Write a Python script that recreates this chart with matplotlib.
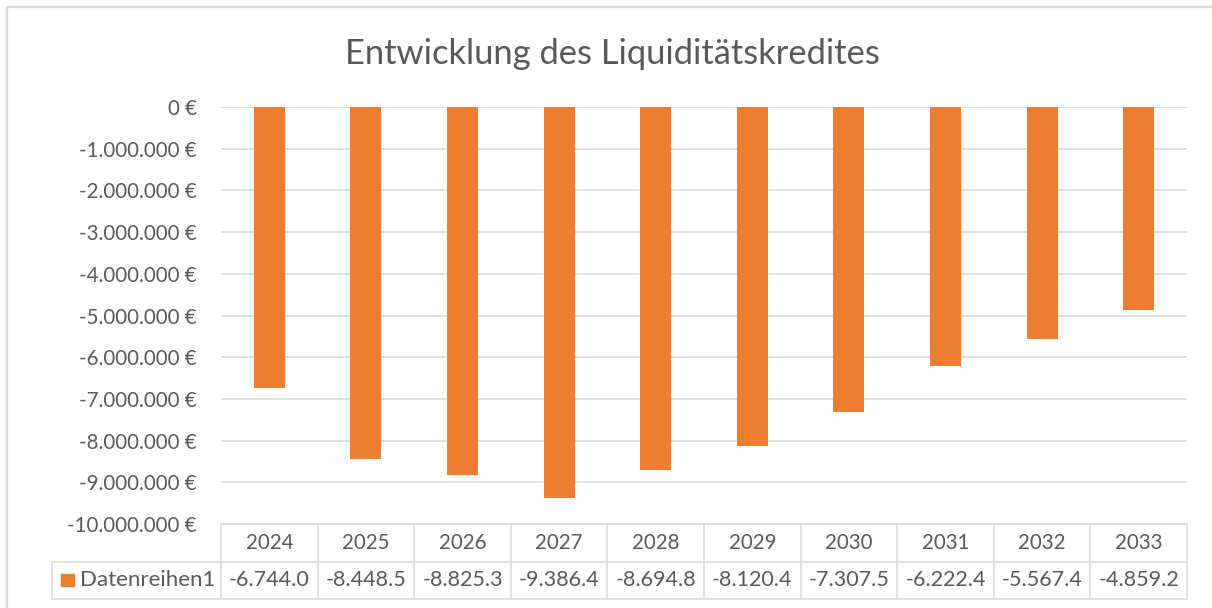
import matplotlib
matplotlib.use("Agg")
import matplotlib.pyplot as plt
from matplotlib.lines import Line2D
from matplotlib.patches import Rectangle
from matplotlib.ticker import FuncFormatter

# Daten (in Tausend Euro, wie in der Datentabelle)
jahre = ["2024", "2025", "2026", "2027", "2028", "2029", "2030", "2031", "2032", "2033"]
werte_tsd = [-6744.0, -8448.5, -8825.3, -9386.4, -8694.8, -8120.4, -7307.5, -6222.4, -5567.4, -4859.2]
reihe = "Datenreihen1"
titel = "Entwicklung des Liquiditätskredites"
y_ticks = [0, -1e6, -2e6, -3e6, -4e6, -5e6, -6e6, -7e6, -8e6, -9e6, -10e6]

ORANGE = "#ED7D31"
GRAU_TEXT = "#595959"
GRAU_LINIE = "#D9D9D9"
W, H = 1212, 608

plt.rcParams["font.family"] = ["Lato", "DejaVu Sans"]

fig = plt.figure(figsize=(W / 100, H / 100), dpi=100)

def px_box(x0, y0, x1, y1):
    # Pixel-Koordinaten (oben links) -> Figure-Koordinaten
    return [x0 / W, 1 - y1 / H, (x1 - x0) / W, (y1 - y0) / H]

#### Diagramm
ax = fig.add_axes(px_box(221, 107, 1187, 524))
x = range(len(jahre))
werte = [v * 1000 for v in werte_tsd]
ax.bar(x, werte, width=0.32, color=ORANGE, zorder=3)
ax.set_xlim(-0.5, len(jahre) - 0.5)
ax.set_ylim(-10e6, 0)
ax.set_yticks(y_ticks)
ax.yaxis.set_major_formatter(FuncFormatter(lambda v, p: f"{v:,.0f} €".replace(",", ".")))
ax.tick_params(axis="y", length=0, pad=17.3, labelsize=14.8, labelcolor=GRAU_TEXT)
ax.set_xticks([])
ax.grid(axis="y", color=GRAU_LINIE, linewidth=1.1, zorder=0)
for s in ax.spines.values():
    s.set_visible(False)

#### Datentabelle
tab = fig.add_axes(px_box(52, 524, 1187, 599))
links = -0.5 - (221 - 52) / 96.6
tab.set_xlim(links, len(jahre) - 0.5)
tab.set_ylim(0, 2)
tab.axis("off")
lw = 1.1
tab.plot([-0.5, len(jahre) - 0.5], [2, 2], color=GRAU_LINIE, lw=lw, clip_on=False)
tab.plot([links, len(jahre) - 0.5], [1, 1], color=GRAU_LINIE, lw=lw, clip_on=False)
tab.plot([links, len(jahre) - 0.5], [0, 0], color=GRAU_LINIE, lw=lw, clip_on=False)
tab.plot([links, links], [0, 1], color=GRAU_LINIE, lw=lw, clip_on=False)
for k in range(len(jahre) + 1):
    tab.plot([k - 0.5, k - 0.5], [0, 2], color=GRAU_LINIE, lw=lw, clip_on=False)
for i, (j, v) in enumerate(zip(jahre, werte_tsd)):
    tab.text(i, 1.5, j, ha="center", va="center", fontsize=14.8, color=GRAU_TEXT)
    tab.text(i, 0.5, f"{v:,.1f}".replace(",", "."), ha="center", va="center",
             fontsize=15.5, color=GRAU_TEXT)

# Legendenschlüssel
fig.add_artist(Rectangle((61 / W, 1 - 586 / H), 13 / W, 12 / H, color=ORANGE,
                         transform=fig.transFigure))
fig.text(80 / W, 1 - 580 / H, reihe, ha="left", va="center", fontsize=16, color=GRAU_TEXT)

#### Titel
fig.text(612 / W, 1 - 64 / H, titel, ha="center", va="baseline", fontsize=24.8,
         color=GRAU_TEXT)

# Rahmen des Diagrammbereichs
fig.add_artist(Line2D([7 / W, 7 / W, 1], [0, 1 - 7 / H, 1 - 7 / H],
                      color=GRAU_LINIE, lw=1.6, transform=fig.transFigure))

fig.savefig("out.png", dpi=100, facecolor="white")
